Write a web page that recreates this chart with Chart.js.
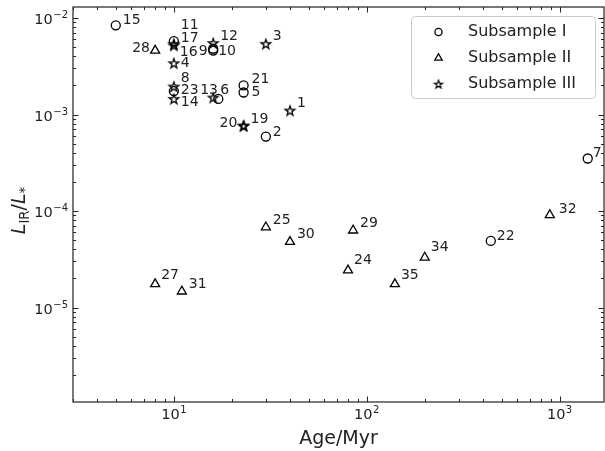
<!DOCTYPE html>
<html>
<head>
<meta charset="utf-8">
<script src="https://cdn.jsdelivr.net/npm/chart.js@4"></script>
<style>
  html, body { margin: 0; padding: 0; background: #fff; }
</style>
</head>
<body>
<canvas id="chart" width="605" height="451"></canvas>
<script>
'use strict';

// Subsample I (open circles)
const idsI  = ['15', '11', '9', '10', '21', '5', '6', '23', '2', '7', '22'];
const ageI  = [5, 10, 16, 16, 23, 23, 17, 10, 30, 1400, 440];
const lirI  = [8.4e-3, 5.75e-3, 4.8e-3, 4.6e-3, 2.0e-3, 1.69e-3, 1.45e-3, 1.75e-3, 5.9e-4, 3.5e-4, 4.9e-5];

// Subsample II (open triangles)
const idsII = ['28', '25', '30', '27', '31', '29', '24', '35', '34', '32'];
const ageII = [8, 30, 40, 8, 11, 85, 80, 140, 200, 890];
const lirII = [4.6e-3, 6.8e-5, 4.8e-5, 1.75e-5, 1.47e-5, 6.3e-5, 2.43e-5, 1.75e-5, 3.3e-5, 9.1e-5];

// Subsample III (stars)
const idsIII = ['17', '16', '12', '3', '4', '8', '14', '13', '1', '20', '19'];
const ageIII = [10, 10, 16, 30, 10, 10, 10, 16, 40, 23, 23];
const lirIII = [5.4e-3, 5.2e-3, 5.5e-3, 5.4e-3, 3.4e-3, 1.95e-3, 1.45e-3, 1.5e-3, 1.1e-3, 7.7e-4, 7.6e-4];

const seriesNames = ['Subsample I', 'Subsample II', 'Subsample III'];

// axis ranges and labelled (major) ticks
const xRange = [3, 1700];
const yRange = [1.05e-6, 1.3e-2];
const xMajor = [10, 100, 1000];
const yMajor = [1e-5, 1e-4, 1e-3, 1e-2];

// where each number label sits relative to its marker (px), default is up-right
const labelShift = {
  '15': [7, -5], '11': [7, -16], '17': [7, -5], '16': [6, 7], '9': [-14.5, 3], '10': [5, 1],
  '4': [7, 0], '8': [7, -8], '23': [7, -1], '14': [7, 3], '13': [-13, -7], '6': [2, -9],
  '21': [8, -6], '5': [8, 0], '20': [-24, -2], '28': [-23, -2], '2': [7, -4],
  '22': [6, -5], '32': [9, -6], '27': [6, -9], '24': [6, -10], '35': [6, -9], '34': [6, -10], '7': [5, -5]
};

const FONT = '"DejaVu Sans", "Liberation Sans", sans-serif';
const INK = '#000000';

// five pointed star like matplotlib's '*'
function makeStar(r, lw) {
  const size = 2 * Math.ceil(r + lw + 1);
  const c = document.createElement('canvas');
  c.width = size;
  c.height = size;
  const g = c.getContext('2d');
  g.translate(size / 2, size / 2 + 0.5);
  g.beginPath();
  for (let i = 0; i < 10; i++) {
    const rad = i % 2 === 0 ? r : r * 0.4;
    const a = -Math.PI / 2 + i * Math.PI / 5;
    g.lineTo(rad * Math.cos(a), rad * Math.sin(a));
  }
  g.closePath();
  g.lineWidth = lw;
  g.lineJoin = 'miter';
  g.strokeStyle = INK;
  g.stroke();
  return c;
}
const starImg = makeStar(5, 1.3);
const starSmall = makeStar(4.2, 1.2);

function points(xs, ys) {
  return xs.map((x, i) => ({ x: x, y: ys[i] }));
}

const idsBySeries = [idsI, idsII, idsIII];

// all 1..9 x 10^n values inside a range
function logTicks(lo, hi) {
  const out = [];
  for (let e = Math.floor(Math.log10(lo)); e <= Math.ceil(Math.log10(hi)); e++) {
    for (let k = 1; k <= 9; k++) {
      const v = k * Math.pow(10, e);
      if (v >= lo * 0.9999 && v <= hi * 1.0001) out.push({ v: v, major: k === 1 });
    }
  }
  return out;
}

// "10" with a raised exponent; y is the baseline
function drawPow(ctx, exp, x, y, align) {
  ctx.font = '14.5px ' + FONT;
  const wb = ctx.measureText('10').width;
  ctx.font = '10px ' + FONT;
  const we = ctx.measureText(exp).width;
  const total = wb + 0.5 + we;
  const left = align === 'center' ? x - total / 2 : x - total;
  ctx.textAlign = 'left';
  ctx.textBaseline = 'alphabetic';
  ctx.font = '14.5px ' + FONT;
  ctx.fillText('10', left, y);
  ctx.font = '10px ' + FONT;
  ctx.fillText(exp, left + wb + 0.5, y - 6);
}

function expText(v) {
  const e = Math.round(Math.log10(v));
  return (e < 0 ? '\u2212' : '') + Math.abs(e);
}

// frame, inward ticks on every side, tick labels and axis titles
const axesPlugin = {
  id: 'axesPlugin',
  afterDraw(chart) {
    const ctx = chart.ctx;
    const a = chart.chartArea;
    const xs = chart.scales.x;
    const ys = chart.scales.y;
    ctx.save();
    ctx.strokeStyle = '#222';
    ctx.lineWidth = 1;
    ctx.beginPath();
    logTicks(xRange[0], xRange[1]).forEach(t => {
      const px = Math.round(xs.getPixelForValue(t.v)) + 0.5;
      const len = t.major ? 5.5 : 3;
      ctx.moveTo(px, a.bottom); ctx.lineTo(px, a.bottom - len);
      ctx.moveTo(px, a.top); ctx.lineTo(px, a.top + len);
    });
    logTicks(yRange[0], yRange[1]).forEach(t => {
      const py = Math.round(ys.getPixelForValue(t.v)) + 0.5;
      const len = t.major ? 5.5 : 3;
      ctx.moveTo(a.left, py); ctx.lineTo(a.left + len, py);
      ctx.moveTo(a.right, py); ctx.lineTo(a.right - len, py);
    });
    ctx.stroke();

    ctx.lineWidth = 1.3;
    ctx.strokeStyle = '#333';
    ctx.strokeRect(a.left, a.top, a.right - a.left, a.bottom - a.top);

    ctx.fillStyle = '#222';
    xMajor.forEach(v => drawPow(ctx, expText(v), xs.getPixelForValue(v), a.bottom + 17, 'center'));
    yMajor.forEach(v => drawPow(ctx, expText(v), a.left - 5, ys.getPixelForValue(v) + 6, 'right'));

    // x title
    ctx.font = '19px ' + FONT;
    ctx.textAlign = 'center';
    ctx.textBaseline = 'alphabetic';
    ctx.fillText('Age/Myr', (a.left + a.right) / 2, 444);

    // y title: L_IR / L_*
    const parts = [
      { t: 'L', f: 'italic 19px ' + FONT, dy: 0 },
      { t: 'IR', f: '13.3px ' + FONT, dy: 4 },
      { t: '/', f: '19px ' + FONT, dy: 0 },
      { t: 'L', f: 'italic 19px ' + FONT, dy: 0 },
      { t: '*', f: '13.3px ' + FONT, dy: 4 }
    ];
    let total = 0;
    parts.forEach(p => { ctx.font = p.f; p.w = ctx.measureText(p.t).width; total += p.w; });
    ctx.translate(25, (a.top + a.bottom) / 2 + 6);
    ctx.rotate(-Math.PI / 2);
    ctx.textAlign = 'left';
    let cx = -total / 2;
    parts.forEach(p => {
      ctx.font = p.f;
      ctx.fillText(p.t, cx, p.dy);
      cx += p.w;
    });
    ctx.restore();
  }
};

// number next to every marker
const idPlugin = {
  id: 'idPlugin',
  afterDatasetsDraw(chart) {
    const ctx = chart.ctx;
    ctx.save();
    ctx.font = '14px ' + FONT;
    ctx.fillStyle = '#222';
    ctx.textAlign = 'left';
    ctx.textBaseline = 'middle';
    chart.data.datasets.forEach((ds, di) => {
      const meta = chart.getDatasetMeta(di);
      meta.data.forEach((el, i) => {
        const id = idsBySeries[di][i];
        const s = labelShift[id] || [7, -7];
        ctx.fillText(id, el.x + s[0], el.y + s[1]);
      });
    });
    ctx.restore();
  }
};

// legend box in the upper right corner
const legendPlugin = {
  id: 'legendPlugin',
  afterDraw(chart) {
    const ctx = chart.ctx;
    ctx.save();
    ctx.beginPath();
    ctx.roundRect(411.5, 16.5, 184, 82, 4);
    ctx.fillStyle = 'rgba(255,255,255,0.8)';
    ctx.fill();
    ctx.strokeStyle = '#cccccc';
    ctx.lineWidth = 1;
    ctx.stroke();
    const rows = [31, 57, 83];
    const styles = [
      { pointStyle: 'circle', radius: 3.6 },
      { pointStyle: 'triangle', radius: 4.3 },
      { pointStyle: starSmall, radius: 4.2 }
    ];
    chart.data.datasets.forEach((ds, i) => {
      ctx.strokeStyle = INK;
      ctx.fillStyle = 'rgba(0,0,0,0)';
      ctx.lineWidth = 1.3;
      Chart.helpers.drawPoint(ctx, {
        pointStyle: styles[i].pointStyle, radius: styles[i].radius, borderWidth: 1.3, rotation: 0
      }, 438.5, rows[i] + 1);
      ctx.fillStyle = '#222';
      ctx.font = '16px ' + FONT;
      ctx.textAlign = 'left';
      ctx.textBaseline = 'middle';
      ctx.fillText(seriesNames[i], 468, rows[i] + 1);
    });
    ctx.restore();
  }
};

new Chart(document.getElementById('chart'), {
  type: 'scatter',
  data: {
    datasets: [
      {
        label: seriesNames[0], data: points(ageI, lirI),
        pointStyle: 'circle', pointRadius: 4.5, pointBorderWidth: 1.3,
        borderColor: INK, backgroundColor: 'rgba(0,0,0,0)'
      },
      {
        label: seriesNames[1], data: points(ageII, lirII),
        pointStyle: 'triangle', pointRadius: 5.2, pointBorderWidth: 1.3,
        borderColor: INK, backgroundColor: 'rgba(0,0,0,0)'
      },
      {
        label: seriesNames[2], data: points(ageIII, lirIII),
        pointStyle: starImg, pointRadius: 5, pointBorderWidth: 1.3,
        borderColor: INK, backgroundColor: 'rgba(0,0,0,0)'
      }
    ]
  },
  options: {
    responsive: false,
    devicePixelRatio: 1,
    animation: false,
    layout: { autoPadding: false, padding: { left: 73, right: 1, top: 7, bottom: 49 } },
    scales: {
      x: { type: 'logarithmic', min: xRange[0], max: xRange[1], display: false },
      y: { type: 'logarithmic', min: yRange[0], max: yRange[1], display: false }
    },
    plugins: {
      legend: { display: false },
      tooltip: { enabled: false }
    }
  },
  plugins: [axesPlugin, idPlugin, legendPlugin]
});
</script>
</body>
</html>
